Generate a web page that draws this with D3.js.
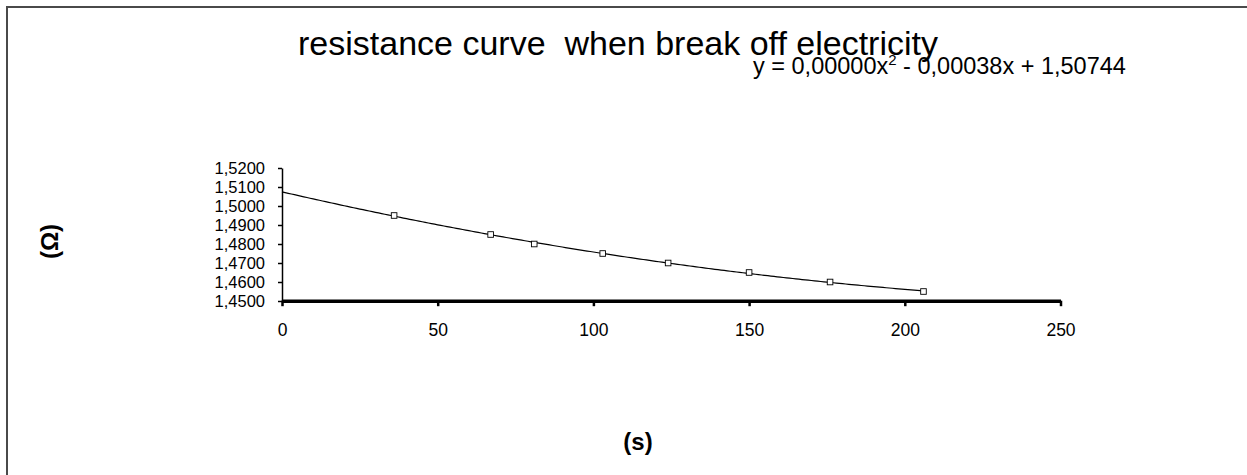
<!DOCTYPE html>
<html><head><meta charset="utf-8">
<script src="https://cdn.jsdelivr.net/npm/d3@7"></script>
<style>html,body{margin:0;padding:0;background:#fff;}svg{display:block;font-family:"Liberation Sans",Arial,sans-serif;}</style>
</head><body>
<script>
const timeS = [36, 67, 81, 103, 124, 150, 176, 206];
const resistance = [1.495, 1.485, 1.480, 1.475, 1.470, 1.465, 1.460, 1.455];
const xTicks = [0, 50, 100, 150, 200, 250];
const yTicks = [1.45, 1.46, 1.47, 1.48, 1.49, 1.50, 1.51, 1.52];
const titleText = "resistance curve  when break off electricity";
const eqParts = ["y = 0,00000x", "2", " - 0,00038x + 1,50744"];
const xTitle = "(s)";
const yTitle = "(Ω)";

const W = 1247, H = 475;
const svg = d3.select("body").append("svg").attr("width", W).attr("height", H);

svg.append("rect").attr("x", 7).attr("y", 7).attr("width", 1400).attr("height", 700)
  .attr("fill", "none").attr("stroke", "#4a4a4a").attr("stroke-width", 2);

const x = d3.scaleLinear().domain([0, 250]).range([282, 1060.5]);
const y = d3.scaleLinear().domain([1.45, 1.52]).range([301, 168]);

// quadratic least-squares trendline from data
function quadFit(xs, ys) {
  const n = xs.length;
  let S = [0,0,0,0,0], T = [0,0,0];
  for (let i = 0; i < n; i++) {
    const xi = xs[i], yi = ys[i];
    for (let k = 0; k < 5; k++) S[k] += Math.pow(xi, k);
    for (let k = 0; k < 3; k++) T[k] += Math.pow(xi, k) * yi;
  }
  const A = [[S[0],S[1],S[2],T[0]],[S[1],S[2],S[3],T[1]],[S[2],S[3],S[4],T[2]]];
  for (let i = 0; i < 3; i++) {
    for (let j = i+1; j < 3; j++) {
      const f = A[j][i]/A[i][i];
      for (let k = i; k < 4; k++) A[j][k] -= f*A[i][k];
    }
  }
  const c = [0,0,0];
  for (let i = 2; i >= 0; i--) {
    let s = A[i][3];
    for (let k = i+1; k < 3; k++) s -= A[i][k]*c[k];
    c[i] = s/A[i][i];
  }
  return c;
}
const coef = quadFit(timeS, resistance);
const trendX = d3.range(0, d3.max(timeS) + 0.5, 1);
svg.append("path")
  .datum(trendX)
  .attr("fill", "none").attr("stroke", "#000").attr("stroke-width", 1.2)
  .attr("d", d3.line().x(d => x(d)).y(d => y(coef[0] + coef[1]*d + coef[2]*d*d)));

// Y axis
const yAxis = svg.append("g").attr("transform", "translate(282,0)")
  .call(d3.axisLeft(y).tickValues(yTicks).tickSize(4).tickSizeOuter(0)
    .tickFormat(d => d3.format(".4f")(d).replace(".", ",")));
yAxis.select(".domain").attr("stroke", "#000").attr("stroke-width", 1.5);
yAxis.selectAll(".tick line").attr("stroke", "#000").attr("stroke-width", 1.5);
yAxis.selectAll("text").attr("font-size", 16.5).attr("fill", "#000")
  .attr("font-family", "Liberation Sans, Arial, sans-serif").attr("x", -17);

// X axis
const xAxis = svg.append("g").attr("transform", "translate(0,300.7)")
  .call(d3.axisBottom(x).tickValues(xTicks).tickSize(5.5).tickSizeOuter(0)
    .tickFormat(d3.format("d")));
xAxis.select(".domain").attr("stroke", "#000").attr("stroke-width", 3.5);
xAxis.selectAll(".tick line").attr("stroke", "#000").attr("stroke-width", 2.5);
xAxis.selectAll("text").attr("font-size", 17.5).attr("fill", "#000")
  .attr("font-family", "Liberation Sans, Arial, sans-serif").attr("y", 23);

// markers
svg.selectAll("rect.pt").data(timeS).enter().append("rect")
  .attr("class", "pt")
  .attr("x", (d) => x(d) - 2.8).attr("y", (d, i) => y(resistance[i]) - 2.8)
  .attr("width", 5.6).attr("height", 5.6)
  .attr("fill", "#fff").attr("stroke", "#000").attr("stroke-width", 0.9);

// Title
svg.append("text").attr("x", 298).attr("y", 55).attr("font-size", 34).attr("fill", "#000")
  .style("white-space", "pre").attr("xml:space", "preserve")
  .text(titleText);

// Equation
const eq = svg.append("text").attr("x", 753).attr("y", 73.5).attr("font-size", 23.5).attr("fill", "#000")
  .style("white-space", "pre");
eq.append("tspan").text(eqParts[0]);
eq.append("tspan").attr("font-size", 15).attr("dy", -9).text(eqParts[1]);
eq.append("tspan").attr("dy", 9).text(eqParts[2]);

// Axis titles
svg.append("text").attr("x", 638).attr("y", 450).attr("text-anchor", "middle")
  .attr("font-size", 24).attr("font-weight", "bold").attr("fill", "#000").text(xTitle);
svg.append("text").attr("transform", "translate(58,241.5) rotate(-90)").attr("text-anchor", "middle")
  .attr("font-size", 24).attr("font-weight", "bold").attr("fill", "#000").text(yTitle);
</script>
</body></html>
